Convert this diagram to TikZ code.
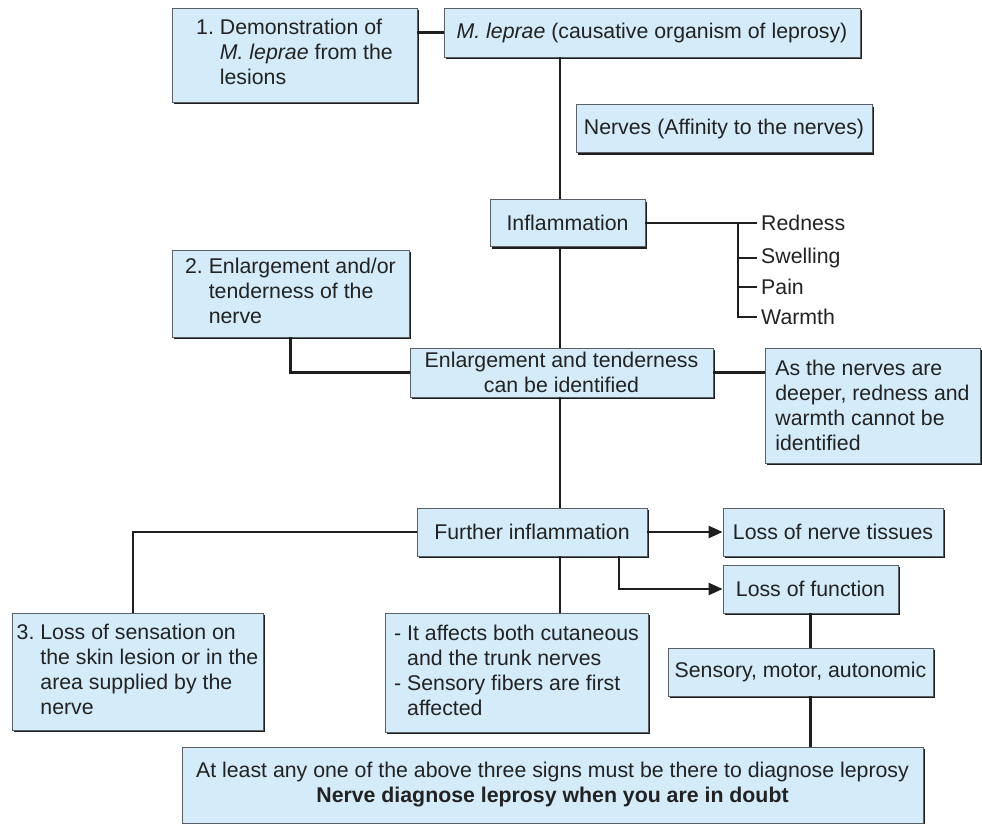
\documentclass[tikz,border=0pt]{standalone}
\usepackage{fontspec}
\setmainfont{Liberation Sans}
\usepackage{tikz}
\usetikzlibrary{positioning,shadows,arrows.meta}
\definecolor{BoxBlue}{HTML}{D4EBF9}
\definecolor{BoxEdge}{HTML}{5A6066}
\definecolor{BoxShade}{HTML}{1E1E1E}
\definecolor{InkGray}{HTML}{222222}

\begin{document}
\begin{tikzpicture}[x=1pt,y=-1pt,>={Triangle[length=14pt,width=12pt]},
  font=\fontsize{21.3}{25}\selectfont]
  \tikzstyle{card}=[draw=BoxEdge,fill=BoxBlue,line width=0.8pt,inner sep=3pt,
    text=InkGray,align=center,
    drop shadow={shadow xshift=2.2pt,shadow yshift=-2.2pt,fill=BoxShade,opacity=1}]
  \tikzstyle{link}=[line width=2.4pt,color=BoxShade]
  \tikzstyle{sign}=[anchor=west,inner sep=4pt,text=InkGray]
  \useasboundingbox (0,0) rectangle (982,824);
  \node[card,minimum width=245pt,minimum height=94pt] (demo) at (294.5,55)
    {\begin{tabular}{@{}l@{\ }l@{}}1.&Demonstration of\\&\textit{M. leprae} from the\\&lesions\end{tabular}};
  \node[card,minimum width=416pt,minimum height=49pt] (lep) at (652,32.5)
    {\textit{M. leprae} (causative organism of leprosy)};
  \node[card,minimum width=296pt,minimum height=48pt] (nerv) at (724,128.5)
    {Nerves (Affinity to the nerves)};
  \node[card,minimum width=155pt,minimum height=47pt] (infl) at (567.5,223) {Inflammation};
  \node[sign] (red) at (757,223) {Redness};
  \node[sign] (swel) at (757,258) {Swelling};
  \node[sign] (pain) at (757,287) {Pain};
  \node[sign] (warm) at (757,317) {Warmth};
  \node[card,minimum width=237pt,minimum height=87pt] (stage2) at (290.5,293.5)
    {\begin{tabular}{@{}l@{\ }l@{}}2.&Enlargement and/or\\&tenderness of the\\&nerve\end{tabular}};
  \node[card,minimum width=303pt,minimum height=49pt] (enl) at (561.5,372.5)
    {Enlargement and tenderness\\can be identified};
  \node[card,minimum width=215pt,minimum height=115pt,align=left] (deep) at (872.5,405.5)
    {As the nerves are\\deeper, redness and\\warmth cannot be\\identified};
  \node[card,minimum width=230pt,minimum height=48pt] (fur) at (532,532) {Further inflammation};
  \node[card,minimum width=220pt,minimum height=48pt] (tis) at (833,532) {Loss of nerve tissues};
  \node[card,minimum width=175pt,minimum height=48pt] (fun) at (810.5,589) {Loss of function};
  \node[card,minimum width=265pt,minimum height=48pt] (sens) at (800.5,672) {Sensory, motor, autonomic};
  \node[card,minimum width=251pt,minimum height=117pt] (anes) at (137.5,671.5)
    {\begin{tabular}{@{}l@{\ }l@{}}3.&Loss of sensation on\\&the skin lesion or in the\\&area supplied by the\\&nerve\end{tabular}};
  \node[card,minimum width=263pt,minimum height=119pt] (aff) at (516.5,672.5)
    {\begin{tabular}{@{}l@{\ }l@{}}-&It affects both cutaneous\\&and the trunk nerves\\-&Sensory fibers are first\\&affected\end{tabular}};
  \node[card,minimum width=741pt,minimum height=76pt] (dx) at (552.5,785)
    {At least any one of the above three signs must be there to diagnose leprosy\\
     \textbf{Nerve diagnose leprosy when you are in doubt}};
  \coordinate (trunk) at (560,0);
  \coordinate (brace) at (738,0);
  \coordinate (fork) at (619,0);
  \draw[link] (demo.east |- lep.west) -- (lep.west);
  \draw[link] (lep.south -| trunk) -- (infl.north -| trunk);
  \draw[link] (infl.south -| trunk) -- (enl.north -| trunk);
  \draw[link] (enl.south -| trunk) -- (fur.north -| trunk);
  \draw[link] (fur.south -| trunk) -- (aff.north -| trunk);
  \draw[link] (infl.east) -- (red.west);
  \draw[link] (red.west -| brace) |- (warm.west);
  \draw[link] (swel.west -| brace) -- (swel.west);
  \draw[link] (pain.west -| brace) -- (pain.west);
  \draw[link] (stage2) |- (enl.west);
  \draw[link] (enl.east) -- (enl.east -| deep.west);
  \draw[->,link] (fur.east) -- (tis.west);
  \draw[->,link] (fur.south -| fork) |- (fun.west);
  \draw[link] (fur.west) -| ([xshift=-4.5pt]anes.north);
  \draw[link] (fun.south) -- (fun.south |- sens.north);
  \draw[link] (fun.south |- sens.south) -- (fun.south |- dx.north);
\end{tikzpicture}
\end{document}
